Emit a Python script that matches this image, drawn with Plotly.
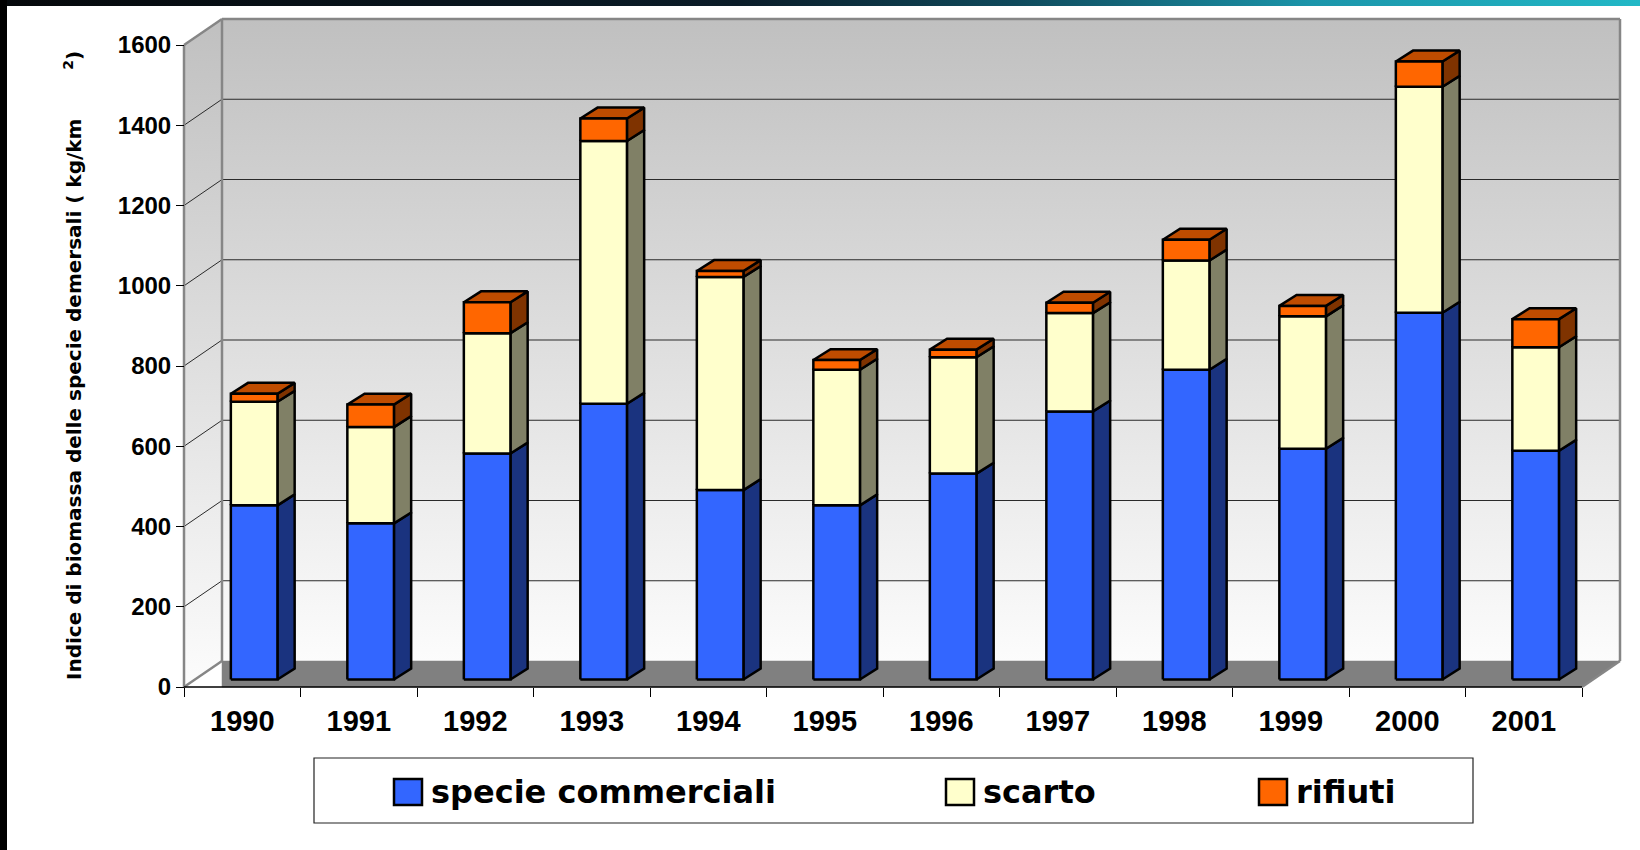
import plotly.graph_objects as go

# ---- data -------------------------------------------------------------
anni = ["1990", "1991", "1992", "1993", "1994", "1995",
        "1996", "1997", "1998", "1999", "2000", "2001"]
specie_commerciali = [434, 389, 563, 687, 472, 434, 513, 668, 772, 575, 914, 570]
scarto = [258, 240, 300, 655, 531, 338, 290, 245, 272, 330, 563, 258]
rifiuti = [20, 56, 77, 56, 15, 24, 19, 26, 52, 26, 63, 70]
y_ticks = [0, 200, 400, 600, 800, 1000, 1200, 1400, 1600]
serie_nomi = ["specie commerciali", "scarto", "rifiuti"]

# face colours for each series: front, side, top
colori = {
    "specie commerciali": ("#3366FF", "#1A337F", "#2648BF"),
    "scarto": ("#FFFFCC", "#808066", "#BFBF99"),
    "rifiuti": ("#FF6600", "#7F3300", "#BF4C00"),
}

# ---- page / projection geometry -------------------------------------
W, H = 1640, 850
X0_PX, X_UNIT_PX = 184.0, 116.5          # pixel of x=0 and pixels per category
Y0_PX = 687.0                             # pixel row of value 0 (front plane)
Y_UNIT_PX = 642.0 / 1600.0                # pixels per value unit
DEPTH_X = 38.0 / X_UNIT_PX                # oblique depth of the chart box
DEPTH_Y = 26.0 / Y_UNIT_PX
BAR_HALF = 0.2                            # half bar width (category units)
T_FRONT, T_BACK = 0.29, 0.71              # bar depth span inside the box
N = len(anni)
YMAX = y_ticks[-1]

X_RANGE = [(0 - X0_PX) / X_UNIT_PX, (W - X0_PX) / X_UNIT_PX]
Y_RANGE = [(Y0_PX - H) / Y_UNIT_PX, Y0_PX / Y_UNIT_PX]


def px_y(py):
    return (Y0_PX - py) / Y_UNIT_PX


def polys_xy(polys):
    xs, ys = [], []
    for p in polys:
        for x, y in p:
            xs.append(x)
            ys.append(y)
        xs += [p[0][0], None]
        ys += [p[0][1], None]
    return xs, ys


def poly_trace(polys, fillcolor, line_color, line_width, **extra):
    xs, ys = polys_xy(polys)
    return go.Scatter(x=xs, y=ys, mode="lines", fill="toself",
                      fillcolor=fillcolor,
                      line=dict(color=line_color, width=line_width),
                      hoverinfo="skip", showlegend=False, **extra)


def line_trace(segments, color, width):
    xs, ys = [], []
    for (x0, y0), (x1, y1) in segments:
        xs += [x0, x1, None]
        ys += [y0, y1, None]
    return go.Scatter(x=xs, y=ys, mode="lines",
                      line=dict(color=color, width=width),
                      hoverinfo="skip", showlegend=False)


fig = go.Figure()

# dark banner strip along the top edge
banner_y = px_y(6)
fig.add_trace(go.Scatter(
    x=[X_RANGE[0], X_RANGE[1], X_RANGE[1], X_RANGE[0], X_RANGE[0]],
    y=[banner_y, banner_y, Y_RANGE[1], Y_RANGE[1], banner_y],
    mode="lines", fill="toself", line=dict(width=0),
    fillgradient=dict(type="horizontal",
                      colorscale=[[0, "#05080b"], [0.45, "#0a1c28"],
                                  [0.62, "#0f4a5c"], [0.8, "#1b95aa"],
                                  [1, "#22b8c6"]]),
    hoverinfo="skip", showlegend=False))

# walls with a vertical grey gradient
left_wall = [(0, 0), (0, YMAX), (DEPTH_X, YMAX + DEPTH_Y), (DEPTH_X, DEPTH_Y)]
back_wall = [(DEPTH_X, DEPTH_Y), (N + DEPTH_X, DEPTH_Y),
             (N + DEPTH_X, YMAX + DEPTH_Y), (DEPTH_X, YMAX + DEPTH_Y)]
for wall, y_start in ((left_wall, 0), (back_wall, DEPTH_Y)):
    xs, ys = polys_xy([wall])
    fig.add_trace(go.Scatter(
        x=xs, y=ys, mode="lines", fill="toself", line=dict(width=0),
        fillgradient=dict(type="vertical", start=y_start, stop=YMAX + DEPTH_Y,
                          colorscale=[[0, "#fcfcfc"], [1, "#c0c0c0"]]),
        hoverinfo="skip", showlegend=False))

# gridlines: across the back wall and diagonally along the side wall
inner = [v for v in y_ticks if 0 < v < YMAX]
fig.add_trace(line_trace(
    [((DEPTH_X, v + DEPTH_Y), (N + DEPTH_X, v + DEPTH_Y)) for v in inner]
    + [((0, v), (DEPTH_X, v + DEPTH_Y)) for v in inner],
    "#2a2a2a", 1))

# floor
floor = [(DEPTH_X, DEPTH_Y), (N + DEPTH_X, DEPTH_Y), (N, 0), (DEPTH_X, 0)]
fig.add_trace(poly_trace([floor], "#808080", "#808080", 0.5))

# box edges
fig.add_trace(line_trace([
    ((0, 0), (0, YMAX)),
    ((0, YMAX), (DEPTH_X, YMAX + DEPTH_Y)),
    ((DEPTH_X, YMAX + DEPTH_Y), (N + DEPTH_X, YMAX + DEPTH_Y)),
    ((DEPTH_X, DEPTH_Y), (DEPTH_X, YMAX + DEPTH_Y)),
    ((N + DEPTH_X, DEPTH_Y), (N + DEPTH_X, YMAX + DEPTH_Y)),
    ((0, 0), (DEPTH_X, DEPTH_Y)),
    ((N, 0), (N + DEPTH_X, DEPTH_Y)),
], "#868686", 2.5))
fig.add_trace(line_trace([((0, 0), (N, 0))], "#000000", 1.5))

# stacked 3-D columns
serie = [specie_commerciali, scarto, rifiuti]
basi = [0.0] * N
ddx = (T_BACK - T_FRONT) * (41.0 / X_UNIT_PX)
ddy = (T_BACK - T_FRONT) * DEPTH_Y
shift_x = T_FRONT * (41.0 / X_UNIT_PX)
for s, (nome, valori) in enumerate(zip(serie_nomi, serie)):
    fronte, lato, cima = [], [], []
    for i, v in enumerate(valori):
        b = basi[i]
        t = b + v
        xl = i + 0.5 - BAR_HALF + shift_x
        xr = i + 0.5 + BAR_HALF + shift_x
        yb = b + T_FRONT * DEPTH_Y
        yt = t + T_FRONT * DEPTH_Y
        fronte.append([(xl, yb), (xr, yb), (xr, yt), (xl, yt)])
        lato.append([(xr, yb), (xr + ddx, yb + ddy), (xr + ddx, yt + ddy), (xr, yt)])
        cima.append([(xl, yt), (xr, yt), (xr + ddx, yt + ddy), (xl + ddx, yt + ddy)])
        basi[i] = t
    c_front, c_side, c_top = colori[nome]
    fig.add_trace(poly_trace(lato, c_side, "#000000", 2.5))
    if s == len(serie) - 1:
        fig.add_trace(poly_trace(cima, c_top, "#000000", 2.5))
    fig.add_trace(poly_trace(fronte, c_front, "#000000", 2.5, name=nome))


# ---- legend box --------------------------------------------------------
def fx(px):
    return px / W


def fy(py):
    return 1 - py / H


shapes = [
    dict(type="rect", xref="paper", yref="paper", x0=0, x1=fx(7), y0=0, y1=1,
         fillcolor="#000000", line=dict(width=0), layer="above"),
    dict(type="rect", xref="paper", yref="paper",
         x0=fx(314), x1=fx(1473), y0=fy(823), y1=fy(758),
         fillcolor="#ffffff", opacity=1, line=dict(color="#222222", width=1.2),
         layer="above"),
]
annotations = []
legend_x = [394, 946, 1259]
for nome, kx in zip(serie_nomi, legend_x):
    shapes.append(dict(type="rect", xref="paper", yref="paper",
                       x0=fx(kx), x1=fx(kx + 28), y0=fy(805), y1=fy(779),
                       fillcolor=colori[nome][0],
                       line=dict(color="#000000", width=2.5), layer="above"))
    annotations.append(dict(xref="paper", yref="paper", x=fx(kx + 35), y=fy(792),
                            xanchor="left", yanchor="middle", showarrow=False,
                            text=nome,
                            font=dict(family="DejaVu Sans", size=32,
                                      color="#000000", weight="bold")))

# y-axis title
annotations.append(dict(
    xref="paper", yref="paper", x=fx(73), y=fy(366), textangle=-90,
    xanchor="center", yanchor="middle", showarrow=False,
    text="Indice di biomassa delle specie demersali ( kg/km"
         + "\u00a0" * 7 + "<sup>2</sup>)",
    font=dict(family="DejaVu Sans", size=20, color="#000000", weight="bold")))

fig.update_layout(
    width=W, height=H, autosize=False,
    margin=dict(l=0, r=0, t=0, b=0, pad=0),
    paper_bgcolor="white", plot_bgcolor="white",
    showlegend=False,
    shapes=shapes, annotations=annotations,
    xaxis=dict(
        range=X_RANGE, anchor="free", position=(H - Y0_PX) / H,
        showgrid=False, zeroline=False, showline=False,
        tickmode="array", tickvals=[i + 0.5 for i in range(N)], ticktext=anni,
        ticks="", ticklabelstandoff=14,
        tickfont=dict(family="Liberation Sans, Arial", size=29,
                      color="#000000", weight="bold"),
        minor=dict(tickmode="array", tickvals=list(range(N + 1)),
                   ticks="outside", ticklen=9, tickwidth=1, tickcolor="#000000"),
        fixedrange=True,
    ),
    yaxis=dict(
        range=Y_RANGE, anchor="free", position=X0_PX / W, side="left",
        showgrid=False, zeroline=False, showline=False,
        tickmode="array", tickvals=y_ticks,
        ticks="outside", ticklen=8, tickwidth=1, tickcolor="#000000",
        tickfont=dict(family="Liberation Sans, Arial", size=24,
                      color="#000000", weight="bold"),
        fixedrange=True,
    ),
)

fig.write_html("out.html")
